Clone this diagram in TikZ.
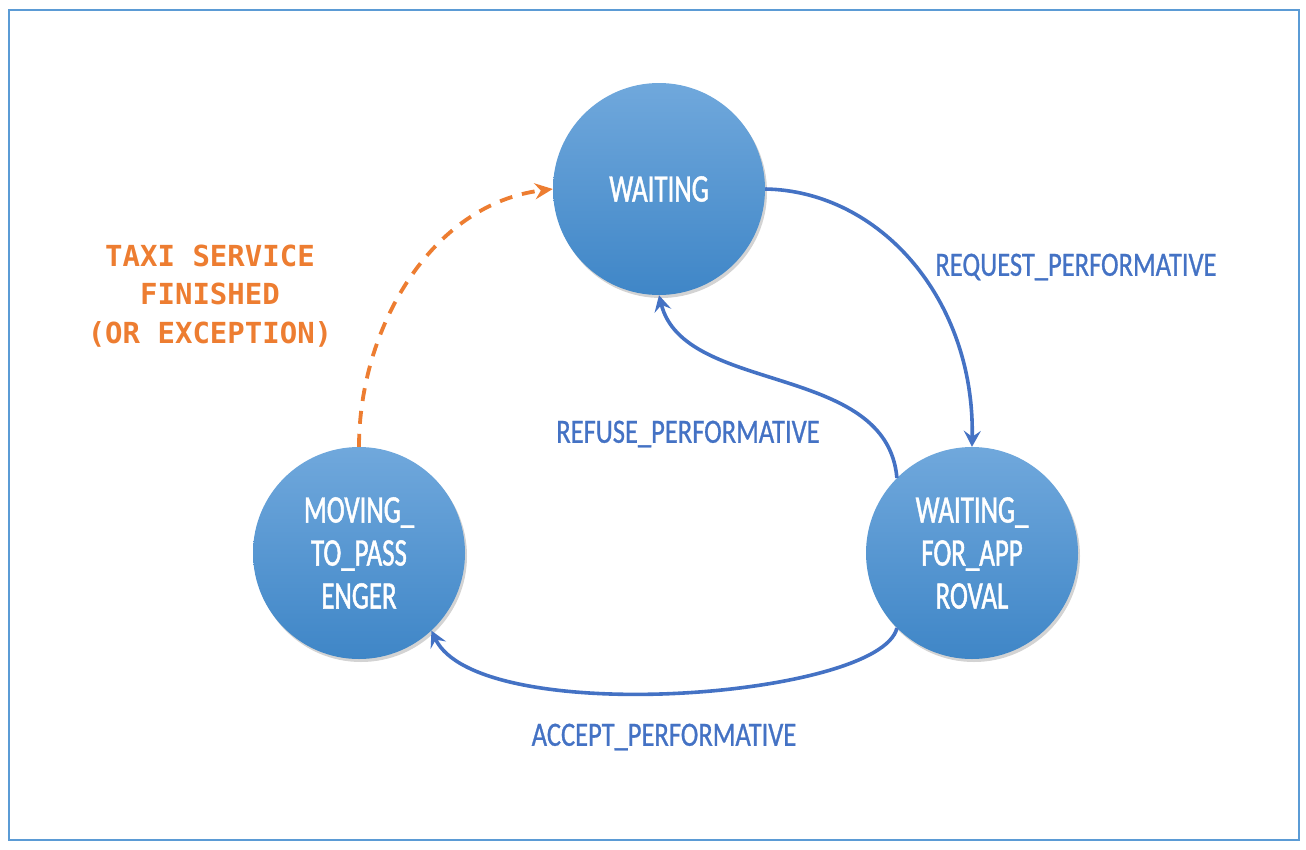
\documentclass[tikz,border=0pt]{standalone}
\usepackage{fontspec}
\usepackage{tikz}
\usetikzlibrary{arrows.meta,shadows}
\newfontfamily\statefont[FakeStretch=0.69,FakeBold=1.2]{Carlito}
\newfontfamily\labelfont[FakeStretch=0.78,FakeBold=0.8]{Carlito}
\newfontfamily\notefont{DejaVu Sans Mono}

\begin{document}
\begin{tikzpicture}[x=1pt,y=-1pt,
	state/.style={circle,minimum size=212pt,inner sep=0pt,align=center,
		top color=stateTop,bottom color=stateBottom,text=white,
		font=\statefont\fontsize{39}{43}\selectfont,
		drop shadow={opacity=0.35,shadow xshift=2pt,shadow yshift=-3pt}},
	trans/.style={draw=lineBlue,line width=3.6pt,-{Stealth[length=16pt,width=17pt,inset=6pt]}},
	translabel/.style={text=lineBlue,font=\labelfont\fontsize{34}{36}\selectfont},
	finish/.style={draw=lineOrange,line width=3.8pt,dash pattern=on 13pt off 10pt,
		-{Stealth[length=18pt,width=16pt,inset=6pt]}}]
	\definecolor{stateTop}{HTML}{70A8DC}
	\definecolor{stateBottom}{HTML}{3F86C7}
	\definecolor{lineBlue}{HTML}{4472C4}
	\definecolor{lineOrange}{HTML}{ED7D31}
	\definecolor{frameBlue}{HTML}{5B9BD5}
	\useasboundingbox (0,0) rectangle (1306,849);
	\draw[frameBlue,line width=2pt] (8.5,9.5) rectangle (1299,840);
	% states
	\node[state] (wait) at (659,189) {WAITING};
	\node[state] (moving) at (359,553) {MOVING\_\\TO\_PASS\\ENGER};
	\node[state] (approval) at (972,553) {WAITING\_\\FOR\_APP\\ROVAL};
	% transitions
	\draw[trans] (wait.east) .. controls +(115,2) and +(3,-147) .. (approval.north);
	\draw[trans] (approval.135) .. controls +(-10,-116) and +(25,100) .. (wait.south);
	\draw[trans] (approval.225) .. controls +(-17,70) and +(47,98) .. (moving.313);
	\draw[finish] (moving.north) .. controls +(0,-118) and +(-122,15) .. (wait.west);
	% labels
	\node[translabel] (request) at (1076,267) {REQUEST\_PERFORMATIVE};
	\node[translabel] (refuse) at (688,434) {REFUSE\_PERFORMATIVE};
	\node[translabel] (accept) at (664,737) {ACCEPT\_PERFORMATIVE};
	\node[text=lineOrange,align=center,font=\notefont\bfseries\fontsize{29}{38.5}\selectfont]
		(finished) at (210,296) {TAXI SERVICE\\FINISHED\\(OR EXCEPTION)};
\end{tikzpicture}
\end{document}
